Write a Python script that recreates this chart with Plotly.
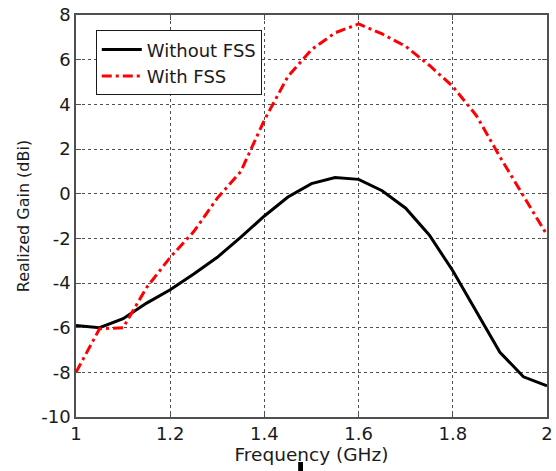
import plotly.graph_objects as go

freq = [1.00, 1.05, 1.10, 1.15, 1.20, 1.25, 1.30, 1.35, 1.40, 1.45, 1.50,
        1.55, 1.60, 1.65, 1.70, 1.75, 1.80, 1.85, 1.90, 1.95, 2.00]
without_fss = [-5.9, -6.0, -5.6, -4.9, -4.3, -3.6, -2.85, -1.95, -1.0, -0.15, 0.45,
               0.72, 0.64, 0.13, -0.65, -1.85, -3.45, -5.25, -7.1, -8.2, -8.6]
with_fss = [-8.0, -6.05, -6.0, -4.2, -2.85, -1.7, -0.2, 1.0, 3.3, 5.25, 6.45,
            7.2, 7.6, 7.15, 6.6, 5.75, 4.8, 3.5, 1.65, -0.1, -1.85]

x_ticks = [1, 1.2, 1.4, 1.6, 1.8, 2]
x_tick_labels = ["1", "1.2", "1.4", "1.6", "1.8", "2"]
y_ticks = [-10, -8, -6, -4, -2, 0, 2, 4, 6, 8]
y_tick_labels = ["-10", "-8", "-6", "-4", "-2", "0", "2", "4", "6", "8"]

FONT = "DejaVu Sans, Arial"
TXT = "#1a1a1a"

fig = go.Figure()
fig.add_trace(go.Scatter(x=freq, y=without_fss, mode="lines", name="Without FSS",
                         line=dict(color="black", width=3)))
fig.add_trace(go.Scatter(x=freq, y=with_fss, mode="lines", name="With FSS",
                         line=dict(color="#ff0000", width=3, dash="10px,4px,3px,4px")))

axis_common = dict(
    showgrid=True, gridcolor="#505050", griddash="3px,3px", gridwidth=1,
    showline=True, linecolor="#505050", linewidth=1.5, mirror="ticks",
    ticks="inside", ticklen=5, tickcolor="#505050",
    tickfont=dict(family=FONT, size=18, color=TXT),
    zeroline=False, ticklabeloverflow="allow",
)

fig.update_xaxes(range=[1, 2], tickvals=x_ticks, ticktext=x_tick_labels,
                 title=dict(text="Frequency (GHz)", standoff=4,
                            font=dict(family=FONT, size=18.5, color=TXT)),
                 **axis_common)
fig.update_yaxes(range=[-10, 8], tickvals=y_ticks, ticktext=y_tick_labels,
                 title=dict(text="Realized Gain (dBi)", standoff=8,
                            font=dict(family=FONT, size=16, color=TXT)),
                 **axis_common)

fig.add_shape(type="rect", xref="paper", yref="paper",
              x0=0.4717, x1=0.482, y0=-0.135, y1=-0.112,
              fillcolor="black", line=dict(width=0))

fig.update_layout(
    width=556, height=471,
    margin=dict(l=76, r=3, t=15, b=54),
    paper_bgcolor="white", plot_bgcolor="white",
    showlegend=True,
    legend=dict(x=0.042, y=0.962, xanchor="left", yanchor="top",
                bgcolor="white", bordercolor=TXT, borderwidth=1,
                font=dict(family=FONT, size=18, color=TXT),
                tracegroupgap=0, itemwidth=40),
)

fig.write_html("out.html")
